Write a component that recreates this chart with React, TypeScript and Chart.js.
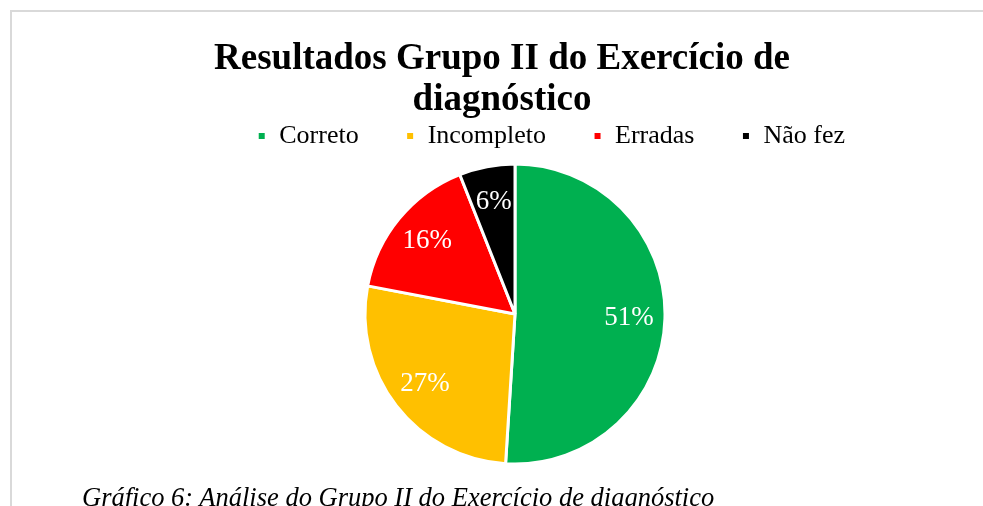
import { useEffect, useRef } from "react";
import { Chart, registerables } from "chart.js";

Chart.register(...registerables);

const titleLines = ["Resultados Grupo II do Exercício de", "diagnóstico"];
const categories = ["Correto", "Incompleto", "Erradas", "Não fez"];
const values = [51, 27, 16, 6];
const sliceColors = ["#00B050", "#FFC000", "#FF0000", "#000000"];
const caption = "Gráfico 6: Análise do Grupo II do Exercício de diagnóstico";

const FONT = "'Liberation Serif', 'Times New Roman', serif";

const sliceLabels = {
  id: "sliceLabels",
  afterDatasetsDraw(chart: any) {
    const ctx = chart.ctx;
    const meta = chart.getDatasetMeta(0);
    const data = chart.data.datasets[0].data as number[];
    const total = data.reduce((a, b) => a + b, 0);
    ctx.save();
    ctx.fillStyle = "#ffffff";
    ctx.font = `27px ${FONT}`;
    ctx.textAlign = "center";
    ctx.textBaseline = "middle";
    meta.data.forEach((arc: any, i: number) => {
      const p = arc.getProps(["x", "y", "startAngle", "endAngle", "outerRadius"], true);
      const mid = (p.startAngle + p.endAngle) / 2;
      const d = p.outerRadius * 0.76;
      ctx.fillText(
        `${Math.round((data[i] / total) * 100)}%`,
        p.x + Math.cos(mid) * d,
        p.y + Math.sin(mid) * d
      );
    });
    ctx.restore();
  },
};

export default function App() {
  const ref = useRef<HTMLCanvasElement | null>(null);

  useEffect(() => {
    if (!ref.current) return;
    const chart = new Chart(ref.current, {
      type: "pie",
      data: {
        labels: categories,
        datasets: [
          {
            data: values,
            backgroundColor: sliceColors,
            borderColor: "#ffffff",
            borderWidth: 3,
            radius: 150,
          } as any,
        ],
      },
      options: {
        responsive: false,
        animation: false,
        events: [],
        layout: { padding: { left: 112, right: 91, top: 0, bottom: 37 } },
        plugins: {
          title: {
            display: true,
            text: titleLines,
            color: "#000000",
            font: { family: FONT, size: 37, weight: "bold", lineHeight: "41px" },
            padding: { top: 39, bottom: -45 },
          },
          subtitle: {
            display: true,
            position: "left",
            fullSize: false,
            text: "",
            font: { family: FONT, size: 1, lineHeight: "26px" },
            padding: 0,
          },
          legend: {
            display: true,
            position: "top",
            align: "end",
            labels: {
              color: "#000000",
              font: { family: FONT, size: 26 },
              boxWidth: 9,
              boxHeight: 9,
              padding: 47,
            },
          },
          tooltip: { enabled: false },
        },
      } as any,
      plugins: [sliceLabels],
    });
    return () => chart.destroy();
  }, []);

  return (
    <div
      style={{
        position: "fixed",
        left: 0,
        top: 0,
        width: 983,
        height: 506,
        overflow: "hidden",
        background: "#ffffff",
      }}
    >
      <canvas
        ref={ref}
        width={983}
        height={506}
        style={{ position: "absolute", left: 0, top: 0, width: 983, height: 506 }}
      />
      <div
        style={{ position: "absolute", left: 10, top: 10, width: 973, height: 2, background: "#d9d9d9" }}
      />
      <div
        style={{ position: "absolute", left: 10, top: 10, width: 2, height: 496, background: "#d9d9d9" }}
      />
      <div
        style={{
          position: "absolute",
          left: 82,
          top: 484,
          whiteSpace: "nowrap",
          fontFamily: FONT,
          fontStyle: "italic",
          fontSize: "26.5px",
          lineHeight: "26.5px",
          color: "#000000",
        }}
      >
        {caption}
      </div>
    </div>
  );
}
